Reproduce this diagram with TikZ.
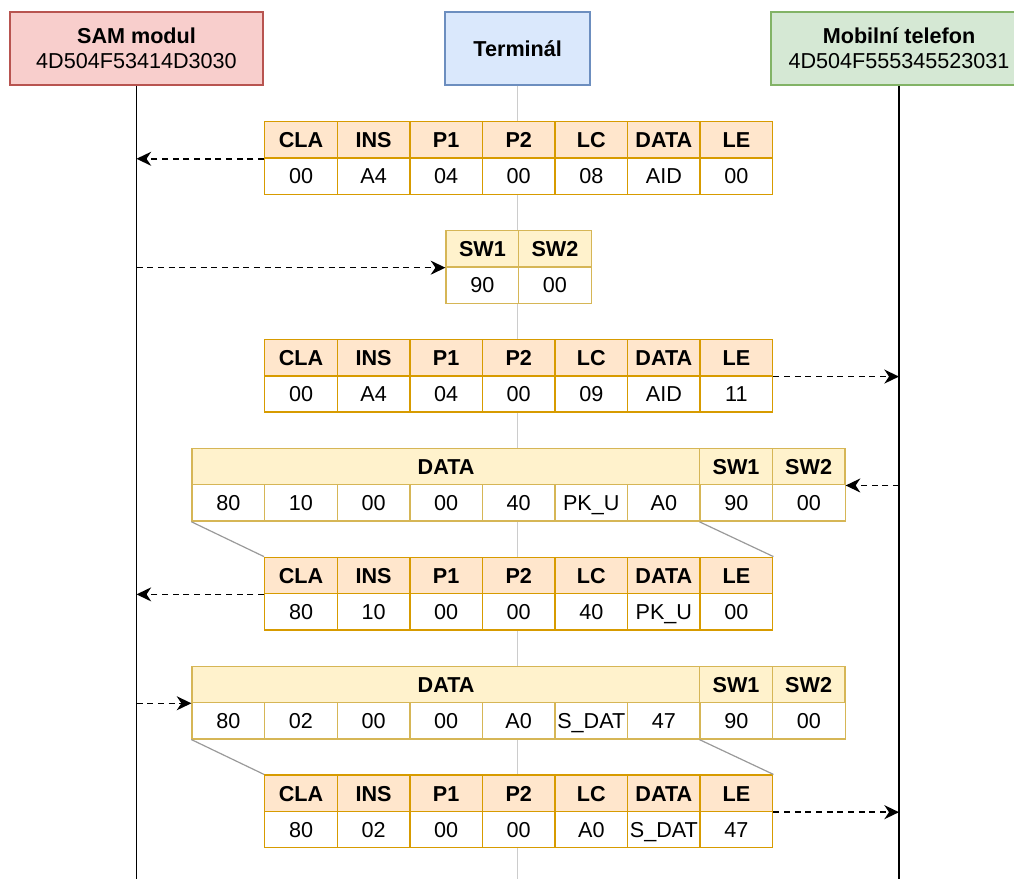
\documentclass[tikz,border=0pt]{standalone}
\usepackage{fontspec}
\setmainfont{Liberation Sans}
\usetikzlibrary{arrows.meta}
\definecolor{ofill}{HTML}{FFE6CC}
\definecolor{ostroke}{HTML}{D79B00}
\definecolor{yfill}{HTML}{FFF2CC}
\definecolor{ystroke}{HTML}{D6B656}
\definecolor{rfill}{HTML}{F8CECC}
\definecolor{rstroke}{HTML}{B85450}
\definecolor{bfill}{HTML}{DAE8FC}
\definecolor{bstroke}{HTML}{6C8EBF}
\definecolor{gfill}{HTML}{D5E8D4}
\definecolor{gstroke}{HTML}{82B366}
\definecolor{linkgray}{HTML}{9A9A9A}
\definecolor{termline}{HTML}{CCCCCC}
\begin{document}
\begin{tikzpicture}[x=0.75pt,y=-0.75pt,
  txt/.style={font=\fontsize{16.2}{18.75}\selectfont},
  btxt/.style={font=\fontsize{16.2}{18.75}\selectfont\bfseries},
  cell/.style={draw, line width=1.1pt, minimum width=54.43pt, minimum height=27.23pt, inner sep=0pt, text height=11.6pt, text depth=0pt, anchor=north west},
  oh/.style={cell, btxt, fill=ofill, draw=ostroke},
  od/.style={cell, txt, fill=white, draw=ostroke},
  yh/.style={cell, btxt, fill=yfill, draw=ystroke},
  yd/.style={cell, txt, fill=white, draw=ystroke},
  actor/.style={txt, draw, line width=1.1pt, minimum height=54.75pt, inner sep=0pt, align=center},
  life/.style={line width=1.1pt, black},
  msg/.style={line width=1.1pt, dash pattern=on 4.5pt off 3.5pt, -{Stealth[length=11pt, width=10.5pt, inset=3.5pt]}},
  link/.style={line width=0.9pt, linkgray}
]
\useasboundingbox (0,0) rectangle (1014,879);
\clip (0,0) rectangle (1014,879);

% actors
\node[actor, fill=rfill, draw=rstroke, minimum width=189.75pt] (sam) at (136.5,48.5)
  {\textbf{SAM modul}\\4D504F53414D3030};
\node[actor, fill=bfill, draw=bstroke, minimum width=108.75pt, btxt] (term) at (517.7,48.5) {Terminál};
\node[actor, fill=gfill, draw=gstroke, minimum width=192pt] (phone) at (899,48.5)
  {\textbf{Mobilní telefon}\\4D504F555345523031};

\coordinate (samEnd) at (136.5,879);
\coordinate (termEnd) at (517.7,879);
\coordinate (phoneEnd) at (899,879);
\draw[line width=0.9pt, termline] (term.south) -- (termEnd);
\draw[life] (sam.south) -- (samEnd);
\draw[life] (phone.south) -- (phoneEnd);

% table 1
\foreach \t [count=\i from 0] in {CLA,INS,P1,P2,LC,DATA,LE}
  \node[oh] (a1h\i) at (264+\i*72.57,121) {\t};
\foreach \t [count=\i from 0] in {00,A4,04,00,08,AID,00}
  \node[od] (a1d\i) at (264+\i*72.57,157.3) {\t};

% table 2
\foreach \t [count=\i from 0] in {SW1,SW2}
  \node[yh] (a2h\i) at (445.4+\i*72.57,229.9) {\t};
\foreach \t [count=\i from 0] in {90,00}
  \node[yd] (a2d\i) at (445.4+\i*72.57,266.2) {\t};

% table 3
\foreach \t [count=\i from 0] in {CLA,INS,P1,P2,LC,DATA,LE}
  \node[oh] (a3h\i) at (264+\i*72.57,338.8) {\t};
\foreach \t [count=\i from 0] in {00,A4,04,00,09,AID,11}
  \node[od] (a3d\i) at (264+\i*72.57,375.1) {\t};

% table 4
\node[yh, minimum width=381pt] (a4hd) at (191.4,447.7) {DATA};
\node[yh] (a4h7) at (699,447.7) {SW1};
\node[yh] (a4h8) at (771.6,447.7) {SW2};
\foreach \t [count=\i from 0] in {80,10,00,00,40,PK\_U,A0,90,00}
  \node[yd] (a4d\i) at (191.4+\i*72.57,484) {\t};

% table 5
\foreach \t [count=\i from 0] in {CLA,INS,P1,P2,LC,DATA,LE}
  \node[oh] (a5h\i) at (264+\i*72.57,556.6) {\t};
\foreach \t [count=\i from 0] in {80,10,00,00,40,PK\_U,00}
  \node[od] (a5d\i) at (264+\i*72.57,592.9) {\t};

% table 6
\node[yh, minimum width=381pt] (a6hd) at (191.4,665.5) {DATA};
\node[yh] (a6h7) at (699,665.5) {SW1};
\node[yh] (a6h8) at (771.6,665.5) {SW2};
\foreach \t [count=\i from 0] in {80,02,00,00,A0,S\_DAT,47,90,00}
  \node[yd] (a6d\i) at (191.4+\i*72.57,701.8) {\t};

% table 7
\foreach \t [count=\i from 0] in {CLA,INS,P1,P2,LC,DATA,LE}
  \node[oh] (a7h\i) at (264+\i*72.57,774.4) {\t};
\foreach \t [count=\i from 0] in {80,02,00,00,A0,S\_DAT,47}
  \node[od] (a7d\i) at (264+\i*72.57,810.7) {\t};

% links between tables
\draw[link] (a4d0.south west) -- (a5h0.north west);
\draw[link] (a4d7.south west) -- (a5h6.north east);
\draw[link] (a6d0.south west) -- (a7h0.north west);
\draw[link] (a6d7.south west) -- (a7h6.north east);

% messages
\draw[msg] (a1h0.south west) -- (a1h0.south west -| sam.south);
\draw[msg] (a2h0.south west -| sam.south) -- (a2h0.south west);
\draw[msg] (a3h6.south east) -- (a3h6.south east -| phone.south);
\draw[msg] (a4h8.south east -| phone.south) -- (a4h8.south east);
\draw[msg] (a5h0.south west) -- (a5h0.south west -| sam.south);
\draw[msg] (a6hd.south west -| sam.south) -- (a6hd.south west);
\draw[msg] (a7h6.south east) -- (a7h6.south east -| phone.south);
\end{tikzpicture}
\end{document}
